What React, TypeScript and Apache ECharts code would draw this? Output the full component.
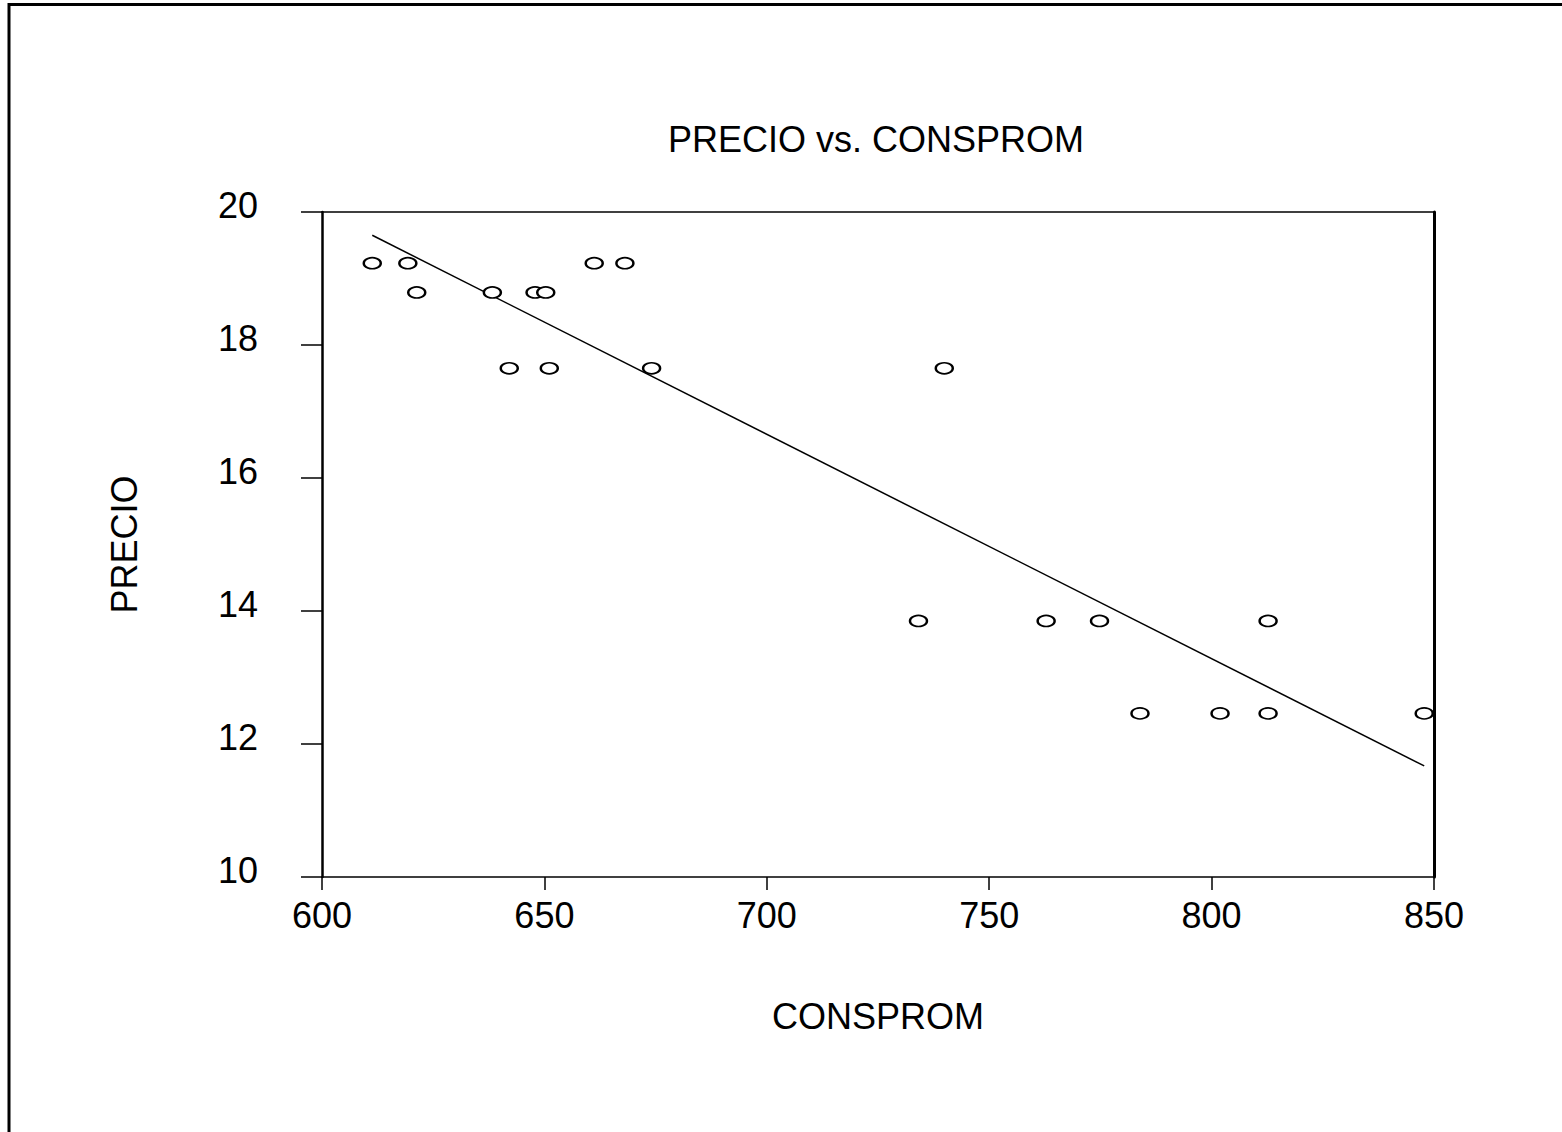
import React, { useEffect, useRef } from "react";
import * as echarts from "echarts";

const consprom: number[] = [
  611.3, 619.3, 621.3, 638.3, 647.9, 650.3, 642.1, 651.1, 661.2, 668.1,
  674.1, 739.9, 734.1, 762.8, 774.8, 812.7, 783.9, 801.9, 812.7, 847.8,
];
const precio: number[] = [
  19.23, 19.23, 18.79, 18.79, 18.79, 18.79, 17.65, 17.65, 19.23, 19.23,
  17.65, 17.65, 13.85, 13.85, 13.85, 13.85, 12.46, 12.46, 12.46, 12.46,
];
const fitX: number[] = [611.3, 847.8];
const fitY: number[] = [19.65, 11.67];
const xTicks = { min: 600, max: 850, interval: 50 };
const yTicks = { min: 10, max: 20, interval: 2 };

const FONT = "Liberation Sans, Arial, sans-serif";

export default function App() {
  const ref = useRef<HTMLDivElement>(null);
  useEffect(() => {
    if (!ref.current) return;
    const chart = echarts.init(ref.current, undefined, { renderer: "svg" });
    const points = consprom.map((x, i) => [x, precio[i]]);
    const fit = fitX.map((x, i) => [x, fitY[i]]);
    chart.setOption({
      animation: false,
      backgroundColor: "#ffffff",
      textStyle: { fontFamily: FONT },
      title: {
        text: "PRECIO vs. CONSPROM",
        left: 663,
        top: 116,
        textStyle: { fontFamily: FONT, fontSize: 36, fontWeight: "normal", color: "#000" },
      },
      graphic: [
        {
          type: "rect",
          shape: { x: 9, y: 4.5, width: 1700, height: 1300 },
          style: { fill: "none", stroke: "#000", lineWidth: 3 },
          silent: true,
        },
      ],
      grid: { left: 322, top: 212, right: 128, bottom: 255, containLabel: false },
      xAxis: [
        {
          type: "value",
          min: xTicks.min,
          max: xTicks.max,
          interval: xTicks.interval,
          position: "bottom",
          name: "CONSPROM",
          nameLocation: "middle",
          nameGap: 121,
          nameTextStyle: { fontFamily: FONT, fontSize: 36, color: "#000" },
          axisLine: { lineStyle: { color: "#000", width: 1.5 } },
          axisTick: { show: true, length: 13, lineStyle: { color: "#000", width: 1.5 } },
          axisLabel: { fontFamily: FONT, fontSize: 36, color: "#000", margin: 20 },
          splitLine: { show: false },
        },
        {
          type: "value",
          min: xTicks.min,
          max: xTicks.max,
          interval: xTicks.interval,
          position: "top",
          axisLine: { show: true, lineStyle: { color: "#000", width: 1.5 } },
          axisTick: { show: false },
          axisLabel: { show: false },
          splitLine: { show: false },
        },
      ],
      yAxis: [
        {
          type: "value",
          min: yTicks.min,
          max: yTicks.max,
          interval: yTicks.interval,
          position: "left",
          name: "PRECIO",
          nameLocation: "middle",
          nameGap: 180,
          nameRotate: 90,
          nameTextStyle: { fontFamily: FONT, fontSize: 36, color: "#000" },
          axisLine: { show: true, lineStyle: { color: "#000", width: 2.5 } },
          axisTick: { show: true, length: 21, lineStyle: { color: "#000", width: 1.5 } },
          axisLabel: {
            fontFamily: FONT,
            fontSize: 36,
            color: "#000",
            margin: 64,
            verticalAlign: "bottom",
            lineHeight: 14,
          },
          splitLine: { show: false },
        },
        {
          type: "value",
          min: yTicks.min,
          max: yTicks.max,
          interval: yTicks.interval,
          position: "right",
          axisLine: { show: true, lineStyle: { color: "#000", width: 3 } },
          axisTick: { show: false },
          axisLabel: { show: false },
          splitLine: { show: false },
        },
      ],
      series: [
        {
          type: "line",
          data: fit,
          xAxisIndex: 0,
          yAxisIndex: 0,
          showSymbol: false,
          symbol: "none",
          lineStyle: { color: "#000", width: 1.5 },
          z: 2,
        },
        {
          type: "scatter",
          data: points,
          xAxisIndex: 0,
          yAxisIndex: 0,
          symbol: "emptyCircle",
          symbolSize: [17, 11],
          itemStyle: { color: "#000", borderColor: "#000", borderWidth: 1.5, opacity: 1 },
          z: 3,
        },
      ],
    });
    return () => chart.dispose();
  }, []);
  return (
    <div
      ref={ref}
      style={{ position: "fixed", left: 0, top: 0, width: 1562, height: 1132, background: "#fff" }}
    />
  );
}
